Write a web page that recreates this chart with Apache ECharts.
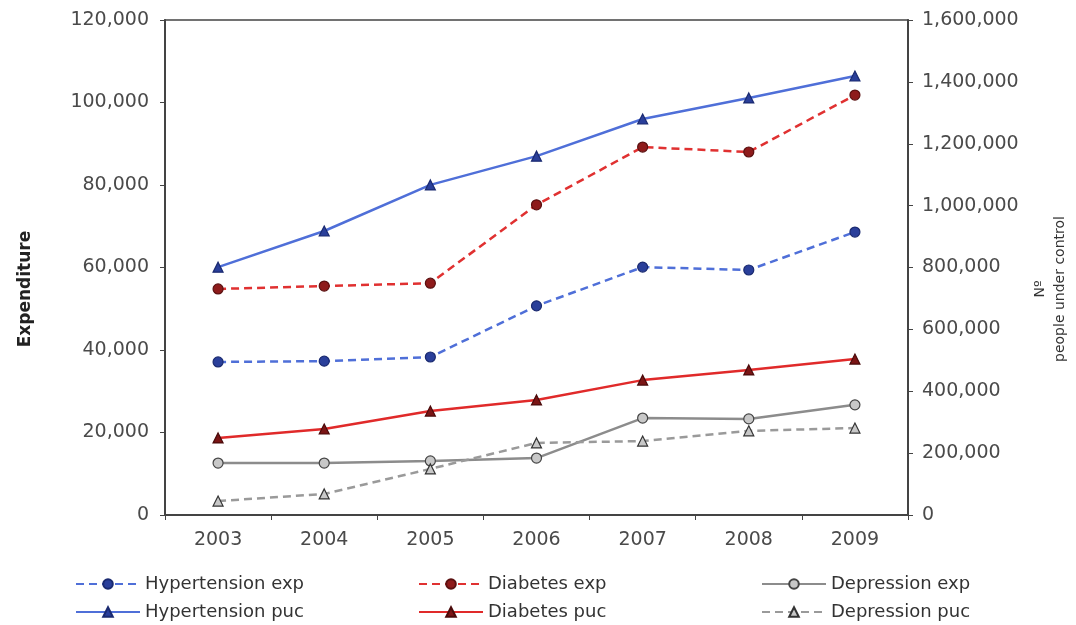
<!DOCTYPE html>
<html>
<head>
<meta charset="utf-8">
<script src="https://cdn.jsdelivr.net/npm/echarts@6/dist/echarts.min.js"></script>
<style>html,body{margin:0;padding:0;background:#fff;}#c{width:1076px;height:625px;}</style>
</head>
<body>
<div id="c"></div>
<script>
const years = ['2003','2004','2005','2006','2007','2008','2009'];
const leftTicks = [0, 20000, 40000, 60000, 80000, 100000, 120000];
const rightTicks = [0, 200000, 400000, 600000, 800000, 1000000, 1200000, 1400000, 1600000];
// Expenditure (left axis)
const hypertensionExp = [37100, 37300, 38300, 50700, 60100, 59400, 68600];
const diabetesExp = [54800, 55500, 56200, 75200, 89200, 88000, 101800];
const depressionExp = [12600, 12600, 13100, 13800, 23500, 23300, 26700];
// People under control (right axis)
const hypertensionPuc = [801000, 918000, 1067000, 1160000, 1280000, 1348000, 1419000];
const diabetesPuc = [249000, 278000, 336000, 372000, 436000, 469000, 504000];
const depressionPuc = [45000, 68000, 149000, 233000, 239000, 272000, 281000];

const fmt = v => v.toLocaleString('en-US');
const chart = echarts.init(document.getElementById('c'), null, {renderer:'canvas'});
const FONT = 'DejaVu Sans, Arial, sans-serif';

function mk(name, data, axis, sym, lineColor, dash, mColor, mBorder) {
  return {
    name, type:'line', data, yAxisIndex: axis, symbol: sym, symbolSize: 10,
    lineStyle:{color: lineColor, width: 2.5, type: dash},
    itemStyle:{color: mColor, borderColor: mBorder, borderWidth: 1.2},
    emphasis:{disabled:true}, animation:false, z: 3
  };
}
const series = [
  mk('Hypertension exp', hypertensionExp, 0, 'circle', '#4f6fd8', [8,5], '#2a3f9a', '#1a2a70'),
  mk('Diabetes exp', diabetesExp, 0, 'circle', '#e03131', [8,5], '#8e1b1b', '#5a1010'),
  mk('Depression exp', depressionExp, 0, 'circle', '#8c8c8c', 'solid', '#c8c8c8', '#444'),
  mk('Hypertension puc', hypertensionPuc, 1, 'triangle', '#4f6fd8', 'solid', '#2a3f9a', '#1a2a70'),
  mk('Diabetes puc', diabetesPuc, 1, 'triangle', '#e02a2a', 'solid', '#7a1515', '#4a0a0a'),
  mk('Depression puc', depressionPuc, 1, 'triangle', '#9a9a9a', [8,5], '#c8c8c8', '#333')
];

const legendPos = [
  [70, 570], [413, 570], [756, 570],
  [70, 598], [413, 598], [756, 598]
];
const legendOrder = ['Hypertension exp','Diabetes exp','Depression exp','Hypertension puc','Diabetes puc','Depression puc'];
const legends = legendOrder.map((n, i) => ({
  data:[n], left: legendPos[i][0], top: legendPos[i][1],
  itemWidth: 64, itemHeight: 12, itemGap: 5, selectedMode:false,
  textStyle:{fontFamily: FONT, fontSize: 18, color:'#333'}
}));

chart.setOption({
  backgroundColor:'#fff',
  animation:false,
  grid:{left:165, right:168, top:20, bottom:110, show:true, borderColor:'#444', borderWidth:1.5, backgroundColor:'transparent'},
  legend: legends,
  xAxis:{
    type:'category', data: years, boundaryGap:true,
    axisLine:{lineStyle:{color:'#444', width:2}},
    axisTick:{show:true, length:5, lineStyle:{color:'#444'}},
    axisLabel:{fontFamily: FONT, fontSize:19, color:'#4a4a4a', margin:16}
  },
  yAxis:[
    {type:'value', min:0, max:120000, interval:20000, position:'left',
     axisLine:{show:true, lineStyle:{color:'#444', width:2}},
     axisTick:{show:true, length:5, lineStyle:{color:'#444'}},
     splitLine:{show:false},
     axisLabel:{fontFamily: FONT, fontSize:19, color:'#4a4a4a', margin:16, formatter: fmt}},
    {type:'value', min:0, max:1600000, interval:200000, position:'right',
     axisLine:{show:true, lineStyle:{color:'#444', width:2}},
     axisTick:{show:true, length:5, lineStyle:{color:'#444'}},
     splitLine:{show:false},
     axisLabel:{fontFamily: FONT, fontSize:19, color:'#4a4a4a', margin:14, formatter: fmt}}
  ],
  graphic:[
    {type:'text', x:26, y:289, rotation:Math.PI/2,
     style:{text:'Expenditure', font:'bold 17px DejaVu Sans, Arial, sans-serif', fill:'#222', align:'center', verticalAlign:'middle'}},
    {type:'text', x:1050, y:289, rotation:Math.PI/2,
     style:{text:'Nº\npeople under control', font:'14px DejaVu Sans, Arial, sans-serif', fill:'#333', align:'center', verticalAlign:'middle', lineHeight:20}}
  ],
  series
});
</script>
</body>
</html>
